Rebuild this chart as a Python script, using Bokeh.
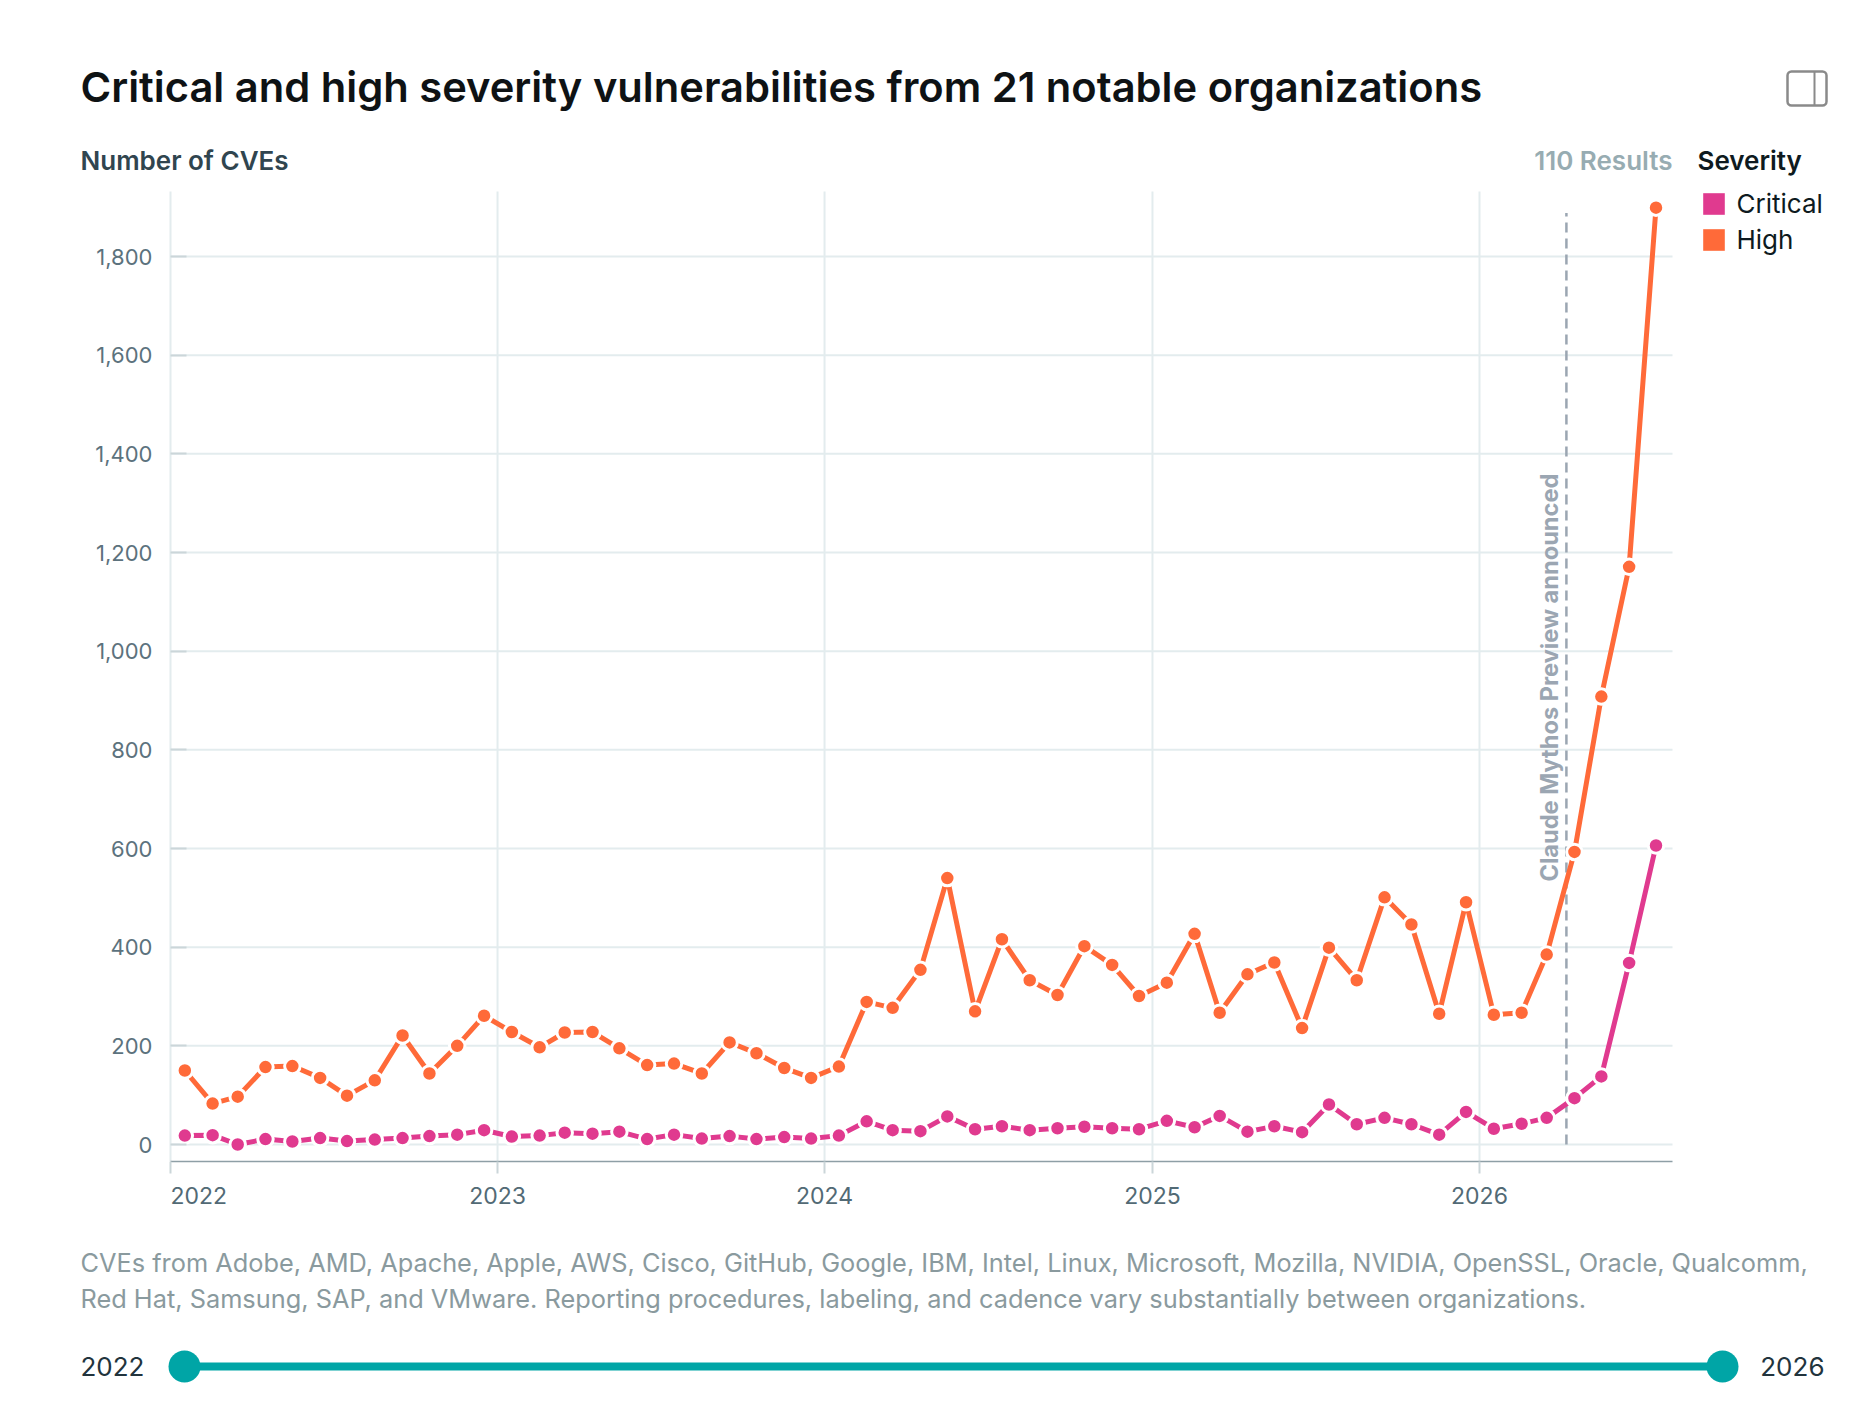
import math
import pandas as pd
from bokeh.embed import file_html
from bokeh.models import (BoxAnnotation, FixedTicker, Label, Legend, LegendItem, LinearAxis,
                          NumeralTickFormatter, Range1d)
from bokeh.plotting import figure
from bokeh.resources import INLINE

months = [f"{y}-{m:02d}-17" for y in range(2022, 2027) for m in range(1, 13)][:55]
high = [150, 83, 97, 157, 159, 135, 99, 130, 221, 144, 200, 261,
        228, 197, 227, 228, 195, 161, 164, 144, 207, 185, 155, 135,
        158, 289, 277, 354, 540, 270, 416, 333, 303, 402, 364, 301,
        328, 427, 267, 345, 369, 236, 399, 333, 501, 446, 265, 491,
        263, 267, 385, 593, 908, 1171, 1899]
critical = [18, 19, 0, 11, 6, 13, 7, 10, 13, 17, 20, 29,
            16, 18, 24, 22, 26, 11, 20, 12, 17, 11, 15, 12,
            18, 47, 29, 27, 57, 31, 37, 29, 33, 36, 33, 31,
            48, 35, 58, 26, 37, 25, 81, 41, 54, 41, 20, 66,
            32, 42, 54, 94, 138, 368, 606]
year_ticks = ["2022", "2023", "2024", "2025", "2026"]
y_ticks = [0, 200, 400, 600, 800, 1000, 1200, 1400, 1600, 1800]
announce_date = "2026-04-08"
announce_text = "Claude Mythos Preview announced"
title_text = "Critical and high severity vulnerabilities from 21 notable organizations"
note_lines = ["CVEs from Adobe, AMD, Apache, Apple, AWS, Cisco, GitHub, Google, IBM, Intel, Linux, Microsoft, Mozilla, NVIDIA, OpenSSL, Oracle, Qualcomm,",
              "Red Hat, Samsung, SAP, and VMware. Reporting procedures, labeling, and cadence vary substantially between organizations."]
slider_years = [2022, 2026]

PINK, ORANGE, TEAL = "#E03A8F", "#FF6A39", "#00A5A6"
GRID, TICK = "#E3ECEE", "#CBD6D9"
FONT = "Inter"
SEMI = "Inter SemiBold"
W, H = 1846, 1396


def ms(s):
    return pd.Timestamp(s).timestamp() * 1000


xs = [ms(d) for d in months]
tick_ms = [ms(f"{y}-01-01") for y in year_ticks]

# layout, in picture pixels
PX_2022, PX_2026, PX_RIGHT = 170, 1479, 1672
PY_0, PY_1800, PY_TOP, PY_AXIS = 1144, 256, 191, 1160.5
a = (PX_2026 - PX_2022) / (tick_ms[-1] - tick_ms[0])
b = (PY_0 - PY_1800) / 1800


def dx(px):
    return tick_ms[0] + (px - PX_2022) / a


def dy(py):
    return (PY_0 - py) / b


p = figure(width=W, height=H, output_backend="svg", toolbar_location=None,
           x_range=Range1d(dx(0), dx(W)), y_range=Range1d(dy(H), dy(0)),
           x_axis_location=None, y_axis_location=None,
           min_border_left=0, min_border_right=0, min_border_top=0, min_border_bottom=0)
p.outline_line_color = None
p.grid.visible = False

# gridlines
p.segment(x0=tick_ms, x1=tick_ms, y0=dy(PY_AXIS), y1=dy(PY_TOP), line_color=GRID, line_width=2)
p.segment(x0=dx(PX_2022), x1=dx(PX_RIGHT), y0=y_ticks, y1=y_ticks, line_color=GRID, line_width=2)

xaxis = LinearAxis(fixed_location=dy(PY_AXIS), bounds=(dx(PX_2022), dx(PX_RIGHT)),
                   ticker=FixedTicker(ticks=tick_ms),
                   major_label_overrides={t: (l if l != "2022" else "") for t, l in zip(tick_ms, year_ticks)},
                   major_tick_in=0, major_tick_out=12, major_tick_line_color=TICK, major_tick_line_width=2,
                   minor_tick_line_color=None, axis_line_color="#8E9FA6", axis_line_width=1.5,
                   major_label_text_font=FONT, major_label_text_font_size="23px",
                   major_label_text_color="#526A75", major_label_standoff=14)
p.add_layout(xaxis, "below")
yaxis = LinearAxis(fixed_location=dx(PX_2022), ticker=FixedTicker(ticks=y_ticks),
                   formatter=NumeralTickFormatter(format="0,0"), axis_line_color=None,
                   major_tick_in=16, major_tick_out=0, major_tick_line_color=TICK, major_tick_line_width=2,
                   minor_tick_line_color=None, major_label_text_font=FONT, major_label_text_font_size="22px",
                   major_label_text_color="#5C727D", major_label_standoff=18)
p.add_layout(yaxis, "left")

p.segment(x0=[ms(announce_date)], x1=[ms(announce_date)], y0=[0], y1=[1888],
          line_color="#9BA6B2", line_width=2.5, line_dash="10 6")

for vals, col in ((critical, PINK), (high, ORANGE)):
    p.line(xs, vals, line_color=col, line_width=5)
for vals, col in ((critical, PINK), (high, ORANGE)):
    p.scatter(xs, vals, size=15.5, fill_color=col, line_color="white", line_width=3)


def label(x, y, text, align="left", size="24px", color="#000", style="normal", angle=0.0, font=FONT):
    p.add_layout(Label(x=x, y=H - y, x_units="screen", y_units="screen", text=text, angle=angle,
                       text_align=align, text_baseline="middle", text_font=font,
                       text_font_size=size, text_color=color, text_font_style=style))


label(1549, 881, announce_text, size="23.6px", color="#9BA6B2", style="bold", angle=math.pi / 2)
label(170, 1195, "2022", size="23px", color="#526A75")
label(80, 86, title_text, size="41.7px", color="#0E1214", font=SEMI)
label(80, 160, "Number of CVEs", size="26px", color="#30454F", font=SEMI)
label(1672, 160, "110 Results", align="right", size="26px", color="#97ACB2", font=SEMI)
label(1697, 160, "Severity", size="26px", color="#0E1A20", font=SEMI)
label(80, 1262, note_lines[0], size="25.35px", color="#8A9A9E")
label(80, 1298, note_lines[1], size="25.35px", color="#8A9A9E")
label(80, 1366, str(slider_years[0]), size="26px", color="#22343D")
label(1824, 1366, str(slider_years[1]), align="right", size="26px", color="#22343D")

# panel toggle icon
box = dict(left_units="screen", right_units="screen", top_units="screen", bottom_units="screen")
p.add_layout(BoxAnnotation(left=1787, right=1826, top=H - 71, bottom=H - 105, fill_color=None,
                           line_color="#8A8A8A", line_alpha=1, line_width=2.5, border_radius=4, **box))
p.add_layout(BoxAnnotation(left=1813, right=1815, top=H - 71, bottom=H - 105, fill_color="#8A8A8A",
                           fill_alpha=1, line_color=None, **box))

# legend
nan = float("nan")
r_c = p.quad(left=[nan], right=[nan], top=[nan], bottom=[nan], fill_color=PINK, line_color=None)
r_h = p.quad(left=[nan], right=[nan], top=[nan], bottom=[nan], fill_color=ORANGE, line_color=None)
legend = Legend(items=[LegendItem(label="Critical", renderers=[r_c]),
                       LegendItem(label="High", renderers=[r_h])],
                location=(1699.5, H - 255), background_fill_alpha=0,
                border_line_color=None, margin=0, padding=0, glyph_width=27, glyph_height=27,
                spacing=5, label_standoff=10,
                label_text_font=FONT, label_text_font_size="26px", label_text_color="#0E1A20")
p.add_layout(legend, "center")

# range slider, on its own ranges
S_L, S_R, S_Y = 184, 1722, 1366
k = (slider_years[1] - slider_years[0]) / (S_R - S_L)
p.extra_x_ranges["slider"] = Range1d(slider_years[0] - S_L * k, slider_years[1] + (W - S_R) * k)
p.extra_y_ranges["slider"] = Range1d(S_Y - H, S_Y)
p.line(slider_years, [0, 0], line_color=TEAL, line_width=8, x_range_name="slider", y_range_name="slider")
p.scatter(slider_years, [0, 0], size=32, fill_color=TEAL, line_color=None, x_range_name="slider", y_range_name="slider")

open("out.html", "w").write(file_html(p, INLINE))
